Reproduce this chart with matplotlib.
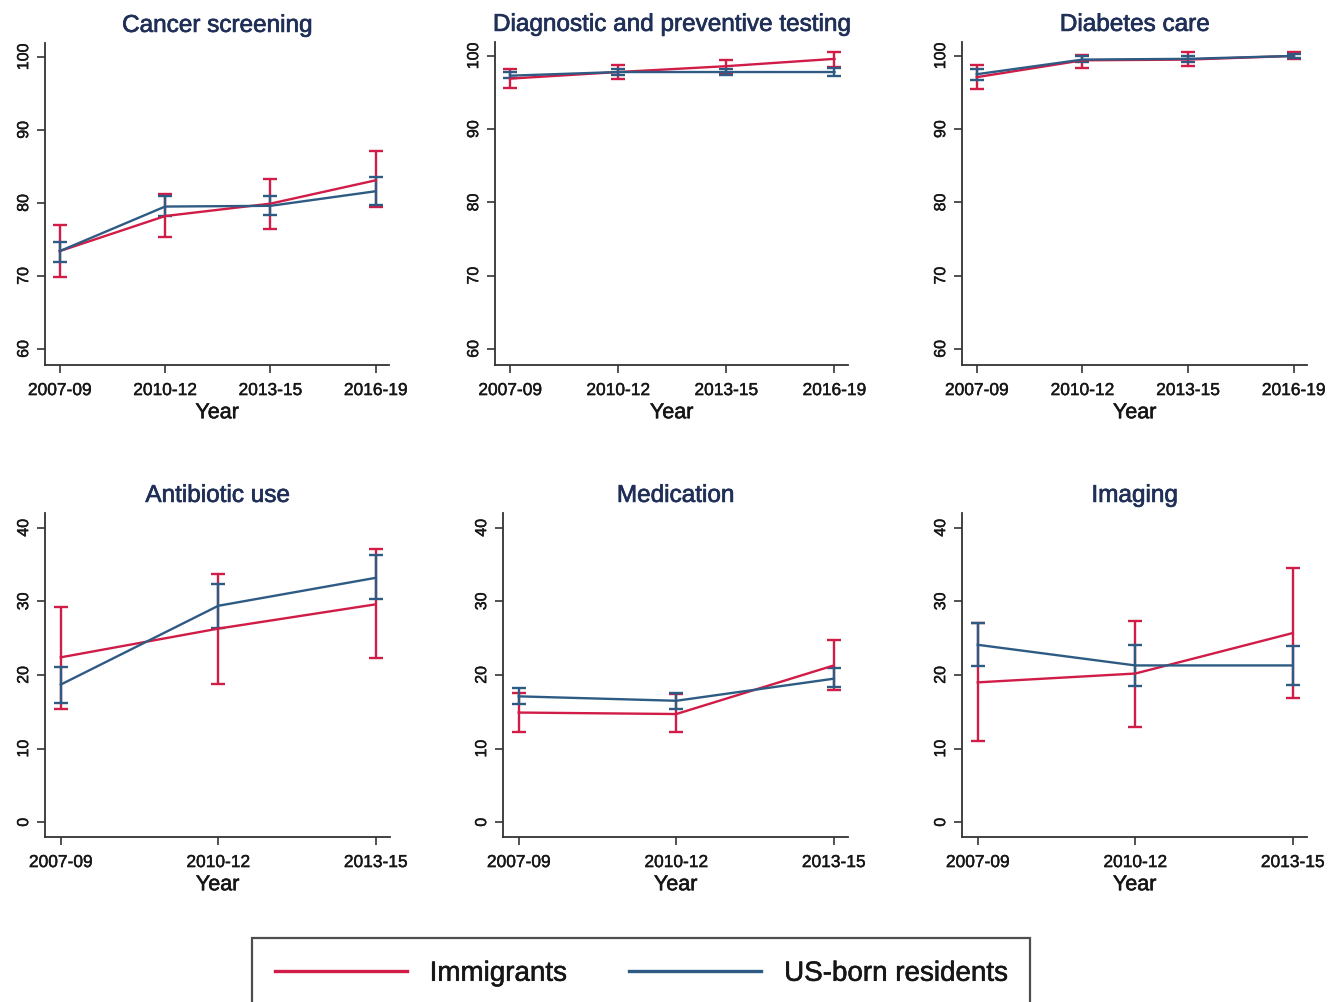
import matplotlib
matplotlib.use("Agg")
import matplotlib.pyplot as plt
import matplotlib.patheffects as pe
import numpy as np

plt.rcParams['font.family'] = ['Liberation Sans', 'DejaVu Sans']

# ---------------- data ----------------
titles = ["Cancer screening", "Diagnostic and preventive testing", "Diabetes care",
          "Antibiotic use", "Medication", "Imaging"]
periods_top = ["2007-09", "2010-12", "2013-15", "2016-19"]
periods_bottom = ["2007-09", "2010-12", "2013-15"]

# Immigrants / US-born: estimate, lower CI, upper CI
imm_cancer = [73.4, 78.2, 79.9, 83.1]
imm_cancer_lo = [69.9, 75.3, 76.4, 79.4]
imm_cancer_hi = [77.0, 81.2, 83.3, 87.1]
us_cancer = [73.4, 79.5, 79.6, 81.6]
us_cancer_lo = [71.9, 78.2, 78.3, 79.7]
us_cancer_hi = [74.6, 80.9, 80.9, 83.5]

imm_diag = [96.9, 97.8, 98.6, 99.6]
imm_diag_lo = [95.6, 96.8, 97.7, 98.5]
imm_diag_hi = [98.2, 98.8, 99.4, 100.6]
us_diag = [97.3, 97.8, 97.8, 97.8]
us_diag_lo = [97.0, 97.4, 97.4, 97.2]
us_diag_hi = [97.8, 98.2, 98.2, 98.4]

imm_diab = [97.1, 99.4, 99.5, 100.0]
imm_diab_lo = [95.5, 98.3, 98.6, 99.6]
imm_diab_hi = [98.7, 100.1, 100.5, 100.5]
us_diab = [97.5, 99.5, 99.6, 100.0]
us_diab_lo = [96.7, 99.2, 99.2, 99.7]
us_diab_hi = [98.2, 100.0, 100.0, 100.3]

imm_abx = [22.4, 26.3, 29.6]
imm_abx_lo = [15.4, 18.8, 22.3]
imm_abx_hi = [29.3, 33.7, 37.1]
us_abx = [18.7, 29.4, 33.2]
us_abx_lo = [16.2, 26.4, 30.3]
us_abx_hi = [21.1, 32.4, 36.3]

imm_med = [14.9, 14.7, 21.3]
imm_med_lo = [12.2, 12.2, 17.9]
imm_med_hi = [17.6, 17.4, 24.7]
us_med = [17.1, 16.5, 19.5]
us_med_lo = [16.1, 15.4, 18.4]
us_med_hi = [18.3, 17.6, 20.9]

imm_img = [19.0, 20.2, 25.7]
imm_img_lo = [11.0, 13.0, 16.9]
imm_img_hi = [27.1, 27.3, 34.5]
us_img = [24.1, 21.3, 21.3]
us_img_lo = [21.2, 18.5, 18.6]
us_img_hi = [27.1, 24.1, 23.9]

series_labels = ["Immigrants", "US-born residents"]
top_yticks = [60, 70, 80, 90, 100]
bottom_yticks = [0, 10, 20, 30, 40]

panels = [
    (periods_top, (imm_cancer, imm_cancer_lo, imm_cancer_hi), (us_cancer, us_cancer_lo, us_cancer_hi)),
    (periods_top, (imm_diag, imm_diag_lo, imm_diag_hi), (us_diag, us_diag_lo, us_diag_hi)),
    (periods_top, (imm_diab, imm_diab_lo, imm_diab_hi), (us_diab, us_diab_lo, us_diab_hi)),
    (periods_bottom, (imm_abx, imm_abx_lo, imm_abx_hi), (us_abx, us_abx_lo, us_abx_hi)),
    (periods_bottom, (imm_med, imm_med_lo, imm_med_hi), (us_med, us_med_lo, us_med_hi)),
    (periods_bottom, (imm_img, imm_img_lo, imm_img_hi), (us_img, us_img_lo, us_img_hi)),
]

RED = "#d01c47"
BLUE = "#2e5b84"
TITLE_C = "#1f2f57"
AX_C = "#333333"
TXT_C = "#161616"

def thick(color, w=0.5):
    return [pe.withStroke(linewidth=w, foreground=color)]

W, H = 1336, 1002
fig = plt.figure(figsize=(W / 100, H / 100), dpi=100)

# pixel boxes (left, right, top, bottom)
boxes = [
    (45, 389, 43, 365), (495, 848, 42, 365), (962, 1307, 42, 365),
    (45, 390, 513, 837), (503, 848, 513, 837), (962, 1307, 513, 837),
]

handles = []
for i, ((periods, imm, us), (l, r, t, b)) in enumerate(zip(panels, boxes)):
    ax = fig.add_axes([l / W, 1 - b / H, (r - l) / W, (b - t) / H])
    x = np.arange(len(periods))
    for (est, lo, hi), col in zip([imm, us], [RED, BLUE]):
        est = np.array(est); lo = np.array(lo); hi = np.array(hi)
        ax.errorbar(x, est, yerr=[est - lo, hi - est], color=col, lw=1.7,
                    elinewidth=1.7, capsize=5, capthick=1.7, zorder=3)
    if i == 0:
        h1, = ax.plot([], [], color=RED, lw=2.4)
        h2, = ax.plot([], [], color=BLUE, lw=2.4)
        handles = [h1, h2]
    ax.set_xticks(x)
    ax.set_xticklabels(periods, fontsize=12.5)
    if len(periods) == 4:
        ax.set_xlim(-0.14, 3.125)
        ax.set_ylim(57.8, 101.9)
        ax.set_yticks(top_yticks)
    else:
        ax.set_xlim(-0.10, 2.09)
        ax.set_ylim(-2.0, 42.0)
        ax.set_yticks(bottom_yticks)
    for lab in ax.get_yticklabels():
        lab.set_rotation(90)
        lab.set_va('center')
        lab.set_fontsize(11.5)
        lab.set_path_effects(thick(TXT_C, 0.3))
    for lab in ax.get_xticklabels():
        lab.set_path_effects(thick(TXT_C, 0.3))
    ax.spines['top'].set_visible(False)
    ax.spines['right'].set_visible(False)
    for s in ['left', 'bottom']:
        ax.spines[s].set_color(AX_C)
        ax.spines[s].set_linewidth(1.3)
    ax.tick_params(axis='x', direction='out', length=6, width=1.2, color=AX_C,
                   labelcolor=TXT_C, pad=7)
    ax.tick_params(axis='y', direction='out', length=6, width=1.2, color=AX_C,
                   labelcolor=TXT_C, pad=4)
    xl = ax.set_xlabel("Year", fontsize=15.5, labelpad=3, color=TXT_C)
    xl.set_path_effects(thick(TXT_C, 0.4))
    tt = ax.set_title(titles[i], fontsize=17.5, color=TITLE_C, pad=8)
    tt.set_path_effects(thick(TITLE_C, 0.5))

leg = fig.legend(handles, series_labels, loc='upper center',
                 bbox_to_anchor=(641 / W, 1 - 938 / H), ncol=2, fontsize=20,
                 frameon=True, fancybox=False, edgecolor='#222222',
                 handlelength=4.75, handletextpad=0.83, columnspacing=2.25,
                 borderpad=0.82, borderaxespad=0)
leg.get_frame().set_linewidth(1.6)
for txt in leg.get_texts():
    txt.set_color(TXT_C)
    txt.set_path_effects(thick(TXT_C, 0.4))

fig.savefig("out.png", dpi=100)
